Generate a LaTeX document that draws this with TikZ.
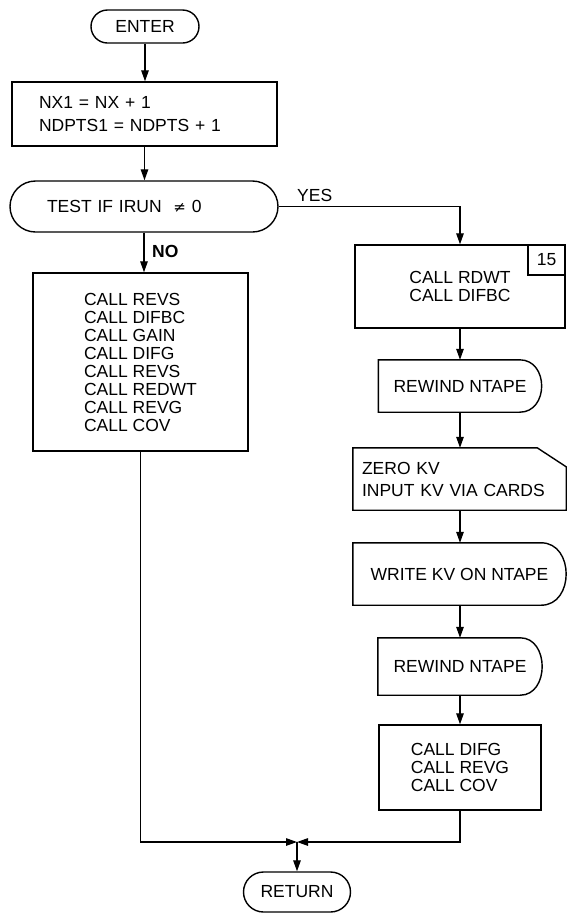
\documentclass[tikz,border=0pt]{standalone}
\usepackage{fontspec}
\setmainfont{Liberation Sans}
\newfontfamily\symfont{DejaVu Sans}
\usetikzlibrary{arrows.meta,shapes.misc,calc}
\tikzset{
  base/.style={inner sep=0pt, font=\fontsize{17.5}{18}\selectfont},
  box/.style={base, draw, rectangle, line width=1.4pt},
  term/.style={base, draw, rounded rectangle, line width=1.4pt},
  ghost/.style={base, rectangle},
  shp/.style={line width=1.4pt},
  arr/.style={line width=1.3pt, -{Triangle[length=11pt,width=7.5pt]}},
}
\begin{document}
\begin{tikzpicture}[x=1pt,y=-1pt]
\useasboundingbox (0,0) rectangle (566,914);
% left column
\node[term, minimum width=108pt, minimum height=33pt] (enter) at (145,26.5) {ENTER};
\node[box, minimum width=265pt, minimum height=64pt, text width=211pt, align=left,
      font=\fontsize{17.5}{23}\selectfont] (init) at (144.5,114) {NX1 = NX + 1\\NDPTS1 = NDPTS + 1};
\node[term, minimum width=268pt, minimum height=51pt, text width=194pt, align=left] (test) at (144,206.5) {TEST IF IRUN \ {\symfont\fontsize{15}{18}\selectfont ≠} 0};
\node[box, minimum width=215pt, minimum height=178pt, align=left] (left) at (140.5,362)
  {CALL REVS\\CALL DIFBC\\CALL GAIN\\CALL DIFG\\CALL REVS\\CALL REDWT\\CALL REVG\\CALL COV};
\node[base, anchor=west, font=\fontsize{17.5}{18}\selectfont\bfseries] (no) at (152,251) {NO};
% right column
\node[box, minimum width=210pt, minimum height=83pt, align=left] (rbox) at (460,286.5) {CALL RDWT\\CALL DIFBC};
\node[box, minimum width=37pt, minimum height=30pt, anchor=north east] (n15) at (rbox.north east) {15};
\node[base, anchor=west] (yes) at (297,195) {YES};
\node[ghost, minimum width=163pt, minimum height=52pt] (rw1) at (460,386) {REWIND NTAPE};
\draw[shp] (rw1.north west) -- ([xshift=-22pt]rw1.north east)
  .. controls ([xshift=7.3pt]rw1.north east) and ([xshift=7.3pt]rw1.south east) .. ([xshift=-22pt]rw1.south east)
  -- (rw1.south west) -- cycle;
\node[ghost, minimum width=213pt, minimum height=62pt, text width=195pt, align=left,
      font=\fontsize{17.5}{22}\selectfont] (card) at (459.5,479) {ZERO KV\\INPUT KV VIA CARDS};
\draw[shp] (card.north west) -- ([xshift=-29pt]card.north east) -- ([yshift=-19pt]card.north east)
  -- (card.south east) -- (card.south west) -- cycle;
\node[ghost, minimum width=213pt, minimum height=62pt] (write) at (459.5,574) {WRITE KV ON NTAPE};
\draw[shp] (write.north west) -- ([xshift=-25pt]write.north east)
  .. controls ([xshift=8.3pt]write.north east) and ([xshift=8.3pt]write.south east) .. ([xshift=-25pt]write.south east)
  -- (write.south west) -- cycle;
\node[ghost, minimum width=164pt, minimum height=57pt] (rw2) at (460,666.5) {REWIND NTAPE};
\draw[shp] (rw2.north west) -- ([xshift=-22pt]rw2.north east)
  .. controls ([xshift=7.3pt]rw2.north east) and ([xshift=7.3pt]rw2.south east) .. ([xshift=-22pt]rw2.south east)
  -- (rw2.south west) -- cycle;
\node[box, minimum width=162pt, minimum height=85pt, align=left] (cbox) at (460,767.5) {CALL DIFG\\CALL REVG\\CALL COV};
% return
\node[term, minimum width=107pt, minimum height=40pt] (ret) at (297,892) {RETURN};
\coordinate (m) at (297,842);
% connectors
\draw[arr] (enter.south) -- (enter.south |- init.north);
\draw[arr] (init.south) -- (init.south |- test.north);
\draw[arr] (test.south) -- (test.south |- left.north);
\draw[arr] (test.east) -| (rbox.north);
\draw[arr] (rbox.south) -- (rbox.south |- rw1.north);
\draw[arr] (rw1.south) -- (rw1.south |- card.north);
\draw[arr] (card.south -| rw1.south) -- (rw1.south |- write.north);
\draw[arr] (write.south -| rw1.south) -- (rw1.south |- rw2.north);
\draw[arr] (rw2.south) -- (rw2.south |- cbox.north);
\draw[arr] (left.south) |- (m);
\draw[arr] (cbox.south) |- (m);
\draw[arr] (m) -- (m |- ret.north);
\end{tikzpicture}
\end{document}
